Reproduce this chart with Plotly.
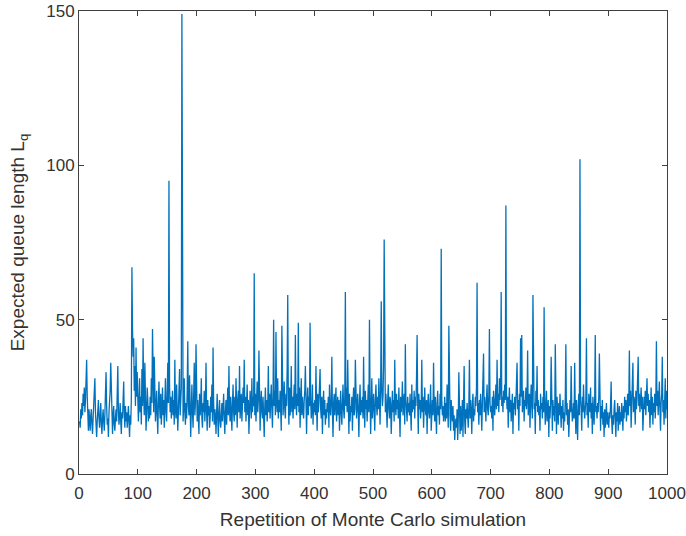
import plotly.graph_objects as go

# Expected queue length Lq for each Monte Carlo repetition
lq_values = [
    17, 15, 21, 18, 23, 19, 26, 22, 28, 20, 24, 31, 37, 25, 19, 14, 21, 17, 14, 19,
    21, 16, 13, 18, 22, 27, 31, 20, 15, 12, 17, 21, 24, 18, 15, 19, 23, 16, 13, 18,
    21, 17, 14, 19, 25, 33, 22, 16, 18, 12, 20, 23, 27, 36, 24, 17, 13, 19, 22, 16,
    14, 18, 21, 17, 25, 35, 20, 16, 19, 23, 17, 13, 20, 18, 24, 30, 19, 15, 22, 17,
    20, 15, 18, 22, 17, 12, 19, 16, 24, 67, 47, 38, 44, 27, 35, 22, 41, 25, 33, 20,
    17, 23, 31, 20, 25, 16, 34, 22, 44, 26, 19, 36, 23, 14, 20, 28, 24, 17, 22, 18,
    25, 19, 31, 23, 47, 28, 20, 38, 24, 17, 21, 27, 19, 13, 23, 30, 22, 18, 26, 16,
    21, 28, 19, 24, 15, 22, 31, 20, 17, 26, 36, 23, 95, 29, 20, 25, 18, 22, 27, 19,
    24, 16, 37, 21, 18, 29, 22, 14, 20, 26, 34, 19, 24, 28, 149, 25, 17, 22, 31, 20,
    16, 23, 18, 27, 43, 22, 19, 32, 24, 12, 21, 29, 20, 15, 25, 36, 19, 23, 42, 21,
    17, 24, 20, 13, 26, 19, 22, 31, 18, 15, 23, 20, 27, 17, 22, 36, 20, 14, 24, 19,
    22, 15, 18, 25, 20, 29, 17, 41, 23, 16, 21, 19, 13, 22, 26, 18, 12, 20, 24, 17,
    15, 19, 23, 17, 21, 26, 18, 13, 20, 24, 16, 22, 28, 19, 35, 21, 17, 25, 20, 14,
    23, 29, 20, 17, 25, 19, 31, 22, 15, 24, 27, 20, 35, 18, 22, 26, 17, 21, 28, 23,
    37, 20, 25, 17, 22, 29, 19, 24, 13, 21, 27, 23, 18, 31, 20, 25, 22, 65, 19, 26,
    17, 22, 30, 20, 24, 40, 19, 14, 23, 27, 20, 18, 25, 21, 12, 22, 28, 19, 24, 17,
    22, 35, 20, 26, 18, 24, 29, 21, 15, 25, 50, 22, 27, 19, 46, 23, 20, 31, 18, 24,
    20, 27, 22, 14, 48, 25, 19, 23, 30, 21, 18, 26, 22, 34, 58, 24, 16, 28, 19, 23,
    35, 20, 25, 18, 22, 29, 21, 45, 24, 19, 26, 22, 49, 20, 28, 15, 23, 31, 19, 25,
    21, 18, 24, 27, 35, 20, 13, 23, 28, 19, 25, 22, 49, 24, 18, 21, 29, 16, 23, 20,
    24, 19, 35, 22, 14, 26, 20, 23, 28, 34, 21, 18, 25, 13, 22, 27, 19, 24, 16, 21,
    18, 23, 20, 25, 15, 29, 22, 19, 24, 38, 20, 12, 23, 26, 19, 22, 28, 17, 21, 25,
    19, 24, 14, 22, 27, 20, 16, 23, 29, 21, 18, 25, 59, 22, 28, 20, 37, 24, 13, 26,
    17, 22, 20, 25, 14, 23, 28, 19, 21, 37, 24, 18, 22, 26, 20, 12, 23, 29, 19, 24,
    20, 25, 18, 38, 22, 15, 27, 21, 24, 17, 23, 29, 20, 50, 25, 13, 22, 31, 18, 23,
    26, 20, 14, 24, 29, 22, 19, 25, 21, 31, 23, 16, 27, 56, 28, 22, 25, 35, 76, 24,
    20, 26, 22, 15, 24, 29, 21, 18, 25, 23, 13, 22, 27, 20, 24, 17, 37, 22, 19, 26,
    21, 24, 18, 28, 22, 12, 25, 20, 23, 30, 19, 22, 26, 16, 42, 24, 21, 17, 25, 20,
    23, 19, 26, 22, 14, 29, 20, 24, 21, 27, 18, 25, 22, 31, 45, 23, 13, 26, 21, 24,
    18, 22, 37, 20, 25, 15, 23, 28, 21, 19, 24, 13, 22, 26, 20, 18, 23, 29, 14, 21,
    24, 19, 36, 22, 17, 25, 20, 13, 23, 27, 19, 22, 16, 26, 21, 73, 24, 19, 22, 17,
    20, 25, 17, 23, 18, 29, 21, 15, 48, 22, 19, 14, 24, 20, 17, 22, 14, 19, 11, 16,
    18, 15, 21, 11, 17, 33, 19, 13, 22, 14, 18, 24, 12, 20, 35, 17, 13, 21, 18, 23,
    19, 15, 22, 37, 18, 24, 20, 13, 23, 26, 17, 21, 19, 25, 22, 28, 62, 20, 23, 16,
    24, 19, 26, 21, 14, 23, 28, 39, 20, 25, 22, 17, 24, 29, 21, 19, 26, 47, 23, 20,
    22, 18, 25, 14, 27, 23, 19, 24, 29, 21, 37, 22, 26, 20, 31, 24, 28, 59, 22, 25,
    20, 27, 23, 29, 24, 87, 26, 21, 25, 15, 23, 28, 20, 24, 17, 22, 26, 13, 23, 21,
    25, 19, 23, 28, 36, 21, 24, 14, 26, 22, 44, 25, 45, 20, 23, 27, 17, 24, 22, 28,
    21, 25, 40, 19, 23, 26, 15, 24, 29, 22, 18, 58, 25, 21, 23, 13, 27, 22, 35, 20,
    24, 19, 22, 14, 26, 21, 23, 18, 25, 20, 54, 23, 16, 22, 27, 17, 21, 24, 12, 22,
    18, 23, 38, 20, 14, 24, 19, 22, 17, 42, 21, 13, 25, 20, 16, 23, 19, 26, 21, 15,
    22, 18, 24, 14, 20, 17, 25, 42, 19, 23, 16, 21, 12, 18, 24, 20, 35, 22, 17, 19,
    23, 18, 36, 21, 13, 24, 20, 11, 22, 26, 19, 102, 24, 21, 14, 25, 20, 29, 22, 18,
    21, 24, 44, 19, 23, 15, 26, 22, 20, 28, 18, 23, 13, 25, 21, 16, 24, 45, 20, 22,
    18, 23, 20, 25, 39, 19, 14, 22, 18, 24, 16, 20, 12, 21, 15, 19, 23, 16, 20, 17,
    15, 20, 18, 22, 30, 17, 13, 19, 16, 21, 24, 18, 12, 20, 17, 23, 14, 19, 22, 16,
    20, 17, 23, 19, 14, 22, 18, 25, 20, 24, 17, 21, 26, 19, 23, 40, 22, 27, 15, 24,
    22, 36, 20, 25, 23, 16, 27, 21, 24, 29, 38, 22, 26, 20, 24, 28, 21, 25, 14, 23,
    25, 21, 27, 19, 23, 31, 22, 26, 20, 24, 15, 22, 28, 19, 25, 16, 23, 20, 26, 18,
    24, 43, 22, 27, 19, 25, 30, 21, 14, 23, 26, 38, 20, 24, 16, 22, 31, 18, 27, 21,
]
repetitions = list(range(1, len(lq_values) + 1))

x_ticks = [0, 100, 200, 300, 400, 500, 600, 700, 800, 900, 1000]
y_ticks = [0, 50, 100, 150]

fig = go.Figure()
fig.add_trace(go.Scatter(
    x=repetitions, y=lq_values, mode="lines",
    line=dict(color="#0072BD", width=1.3),
    showlegend=False,
))

axis_common = dict(
    showline=True, linecolor="#404040", linewidth=1, mirror="allticks",
    ticks="inside", ticklen=5, tickcolor="#404040", tickwidth=1,
    showgrid=False, zeroline=False, automargin=False,
    tickfont=dict(family="Liberation Sans, Arial, sans-serif", size=17, color="#333333"),
)

fig.update_layout(
    width=686, height=536,
    margin=dict(l=79, r=19, t=11, b=62),
    paper_bgcolor="white", plot_bgcolor="white",
    font=dict(family="Liberation Sans, Arial, sans-serif", color="#333333"),
    xaxis=dict(range=[0, 1000], tickvals=x_ticks, ticklabelstandoff=4,
               title=dict(text="Repetition of Monte Carlo simulation",
                          font=dict(size=19), standoff=10),
               **axis_common),
    yaxis=dict(range=[0, 150], tickvals=y_ticks,
               title=dict(text="Expected queue length L<sub>q</sub>",
                          font=dict(size=19), standoff=16),
               **axis_common),
)

# remove the browser's default 8px body margin so the figure sits at the page origin
fig.write_html("out.html", config={"displayModeBar": False},
               post_script="document.body.style.margin='0';")
